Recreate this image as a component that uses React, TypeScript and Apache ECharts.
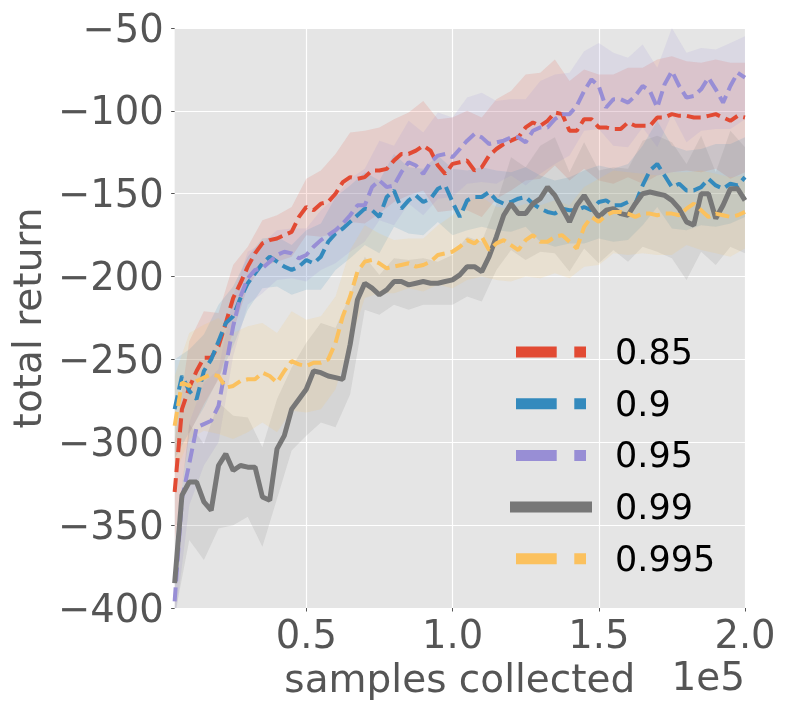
import React, { useEffect, useRef } from 'react';
import * as echarts from 'echarts';

// samples collected (x 1e5)
const X = [
  0.05, 0.075, 0.1, 0.125, 0.15, 0.175, 0.2, 0.225, 0.25, 0.275,
  0.3, 0.325, 0.35, 0.375, 0.4, 0.425, 0.45, 0.475, 0.5, 0.525,
  0.55, 0.575, 0.6, 0.625, 0.65, 0.675, 0.7, 0.725, 0.75, 0.775,
  0.8, 0.825, 0.85, 0.875, 0.9, 0.925, 0.95, 0.975, 1.0, 1.025,
  1.05, 1.075, 1.1, 1.125, 1.15, 1.175, 1.2, 1.225, 1.25, 1.275,
  1.3, 1.325, 1.35, 1.375, 1.4, 1.425, 1.45, 1.475, 1.5, 1.525,
  1.55, 1.575, 1.6, 1.625, 1.65, 1.675, 1.7, 1.725, 1.75, 1.775,
  1.8, 1.825, 1.85, 1.875, 1.9, 1.925, 1.95, 1.975, 2.0,
];

const RED = [
  -330, -280, -267, -257, -249, -249, -242, -228, -213, -204,
  -194, -186, -180, -178, -177, -175, -173, -164, -158, -160,
  -156, -155, -150, -143, -140, -141, -140, -136, -136, -135,
  -130, -126, -126, -124, -121, -124, -133, -138, -132, -131,
  -130, -136, -134, -127, -123, -120, -118, -116, -110, -107,
  -109, -106, -101, -102, -112, -112, -105, -105, -110, -110,
  -111, -111, -107, -109, -109, -109, -104, -104, -102, -103,
  -103, -104, -104, -103, -102, -104, -106, -103, -104,
];

const BLUE = [
  -280, -260, -269, -274, -257, -250, -239, -228, -224, -213,
  -204, -198, -192, -188, -191, -194, -196, -194, -190, -192,
  -188, -179, -174, -171, -167, -163, -159, -160, -164, -152,
  -148, -159, -154, -151, -155, -153, -147, -145, -155, -164,
  -154, -152, -152, -149, -154, -156, -155, -153, -152, -156,
  -159, -161, -162, -159, -160, -160, -158, -160, -155, -154,
  -157, -157, -155, -156, -145, -136, -132, -139, -146, -144,
  -148, -148, -146, -141, -145, -147, -144, -145, -140,
];

const PURPLE = [
  -396, -334, -313, -291, -289, -287, -278, -254, -230, -212,
  -201, -196, -195, -191, -187, -185, -186, -189, -187, -182,
  -178, -175, -172, -168, -163, -157, -157, -146, -142, -146,
  -145, -137, -131, -133, -138, -131, -127, -126, -128, -123,
  -118, -114, -116, -120, -119, -118, -116, -116, -119, -112,
  -110, -110, -105, -102, -102, -97, -88, -81, -85, -98,
  -93, -93, -95, -91, -85, -88, -98, -84, -76, -85,
  -92, -91, -87, -80, -87, -95, -85, -77, -80,
];

const GRAY = [
  -385, -332, -324, -324, -336, -341, -314, -307, -317, -314,
  -315, -315, -333, -335, -304, -296, -280, -274, -268, -257,
  -258, -260, -261, -262, -241, -214, -204, -207, -211, -208,
  -203, -203, -205, -204, -203, -204, -204, -203, -202, -199,
  -194, -194, -197, -188, -176, -163, -156, -162, -162, -156,
  -153, -146, -151, -159, -167, -157, -151, -158, -164, -160,
  -159, -162, -163, -156, -150, -149, -150, -151, -154, -159,
  -167, -169, -150, -150, -165, -157, -147, -147, -154,
];

const YELLOW = [
  -290, -264, -266, -263, -261, -259, -260, -267, -266, -263,
  -262, -262, -258, -260, -264, -257, -251, -253, -254, -252,
  -252, -250, -240, -224, -212, -197, -191, -190, -192, -195,
  -194, -193, -192, -194, -193, -191, -187, -186, -185, -182,
  -178, -180, -176, -184, -180, -178, -181, -184, -178, -175,
  -179, -179, -176, -175, -179, -183, -170, -164, -167, -163,
  -161, -161, -162, -164, -162, -162, -163, -162, -162, -163,
  -159, -156, -160, -164, -162, -163, -164, -163, -161,
];

// spread (std) of each run, at every second sample (x = 0.05, 0.10, ... 2.0)
const RED_STD = [
  30, 28, 28, 20, 20, 12, 14, 14, 15, 17,
  20, 24, 27, 28, 26, 25, 25, 27, 28, 28,
  30, 30, 30, 30, 32, 32, 32, 30, 30, 32,
  33, 33, 35, 35, 35, 33, 33, 33, 35, 33,
];
const BLUE_STD = [
  30, 25, 22, 22, 18, 16, 15, 15, 15, 18,
  20, 22, 22, 22, 22, 22, 20, 20, 20, 20,
  18, 18, 18, 18, 18, 20, 20, 20, 22, 22,
  22, 23, 24, 26, 25, 24, 23, 25, 24, 24,
];
const PURPLE_STD = [
  15, 25, 25, 22, 18, 16, 15, 15, 15, 16,
  18, 20, 22, 22, 24, 24, 25, 25, 26, 24,
  26, 27, 25, 23, 26, 28, 27, 25, 24, 26,
  28, 27, 25, 24, 26, 27, 25, 24, 26, 25,
];
const GRAY_STD = [
  20, 35, 35, 38, 33, 30, 30, 30, 25, 28,
  30, 30, 30, 16, 12, 14, 15, 14, 13, 15,
  18, 18, 20, 28, 28, 32, 35, 30, 32, 28,
  25, 28, 32, 35, 35, 35, 35, 28, 35, 32,
];
const YELLOW_STD = [
  30, 32, 32, 35, 32, 32, 30, 30, 30, 28,
  28, 28, 28, 22, 18, 16, 15, 16, 18, 22,
  24, 24, 22, 22, 22, 22, 22, 22, 24, 26,
  25, 25, 24, 24, 25, 22, 24, 24, 24, 22,
];

const NAMES = ['0.85', '0.9', '0.95', '0.99', '0.995'];
const COLORS = ['#E24A33', '#348ABD', '#988ED5', '#777777', '#FBC15E'];
const BAND_COLORS = [
  'rgba(226,74,51,0.15)',
  'rgba(52,138,189,0.15)',
  'rgba(152,142,213,0.15)',
  'rgba(119,119,119,0.15)',
  'rgba(251,193,94,0.15)',
];
const X_TICKS = [0.5, 1.0, 1.5, 2.0];

const FONT = 'DejaVu Sans';
const DASH_ICON = 'path://M-6,5.5L-6,5.5M0,0h40.7v11h-40.7zM58.3,0h11.7v11h-11.7zM76,5.5L76,5.5';
const SOLID_ICON = 'path://M-6,0h82v11h-82z';

const MEANS = [RED, BLUE, PURPLE, GRAY, YELLOW];
const STDS = [RED_STD, BLUE_STD, PURPLE_STD, GRAY_STD, YELLOW_STD];

function bandSeries(mean: number[], std: number[], fill: string) {
  const idx = X.map((_, i) => i).filter((i) => i % 2 === 0);
  return {
    type: 'custom',
    silent: true,
    z: 1,
    data: [[X[0], mean[0]]],
    renderItem: (params: any, api: any) => {
      const up = idx.map((i, k) => api.coord([X[i], mean[i] + std[k]]));
      const lo = idx.map((i, k) => api.coord([X[i], mean[i] - std[k]])).reverse();
      const cs = params.coordSys;
      return {
        type: 'polygon',
        shape: { points: up.concat(lo) },
        style: { fill },
        clipPath: { type: 'rect', shape: { x: cs.x, y: cs.y, width: cs.width, height: cs.height } },
      };
    },
  };
}

export default function App() {
  const ref = useRef<HTMLDivElement>(null);
  useEffect(() => {
    const chart = echarts.init(ref.current as HTMLDivElement, null, { renderer: 'svg' });
    const bands = MEANS.map((m, s) => bandSeries(m, STDS[s], BAND_COLORS[s]));
    const lines = MEANS.map((m, s) => ({
      type: 'line',
      name: NAMES[s],
      data: X.map((x, i) => [x, m[i]]),
      symbol: 'none',
      z: 3 + s,
      lineStyle: {
        color: COLORS[s],
        width: s === 3 ? 5 : 4,
        type: s === 3 ? 'solid' : [14, 6],
        cap: 'butt',
      },
      itemStyle: { color: COLORS[s] },
    }));
    chart.setOption({
      animation: false,
      textStyle: { fontFamily: FONT },
      grid: {
        left: 171,
        right: 44,
        top: 28,
        bottom: 102,
        show: true,
        backgroundColor: '#E5E5E5',
        borderWidth: 0,
      },
      xAxis: {
        type: 'value',
        min: 0.05,
        max: 2.0,
        axisLine: { show: false },
        axisTick: { show: true, length: 3.5, lineStyle: { color: '#555555' }, customValues: X_TICKS },
        axisLabel: {
          customValues: X_TICKS,
          formatter: (v: number) => v.toFixed(1),
          fontSize: 38.5,
          color: '#555555',
          fontFamily: FONT,
          margin: 7,
        },
        splitLine: { show: true, lineStyle: { color: '#ffffff', width: 1.2 } },
        name: 'samples collected',
        nameLocation: 'middle',
        nameGap: 50,
        nameTextStyle: { fontSize: 39, color: '#555555', fontFamily: FONT },
      },
      yAxis: {
        type: 'value',
        min: -400,
        max: -50,
        interval: 50,
        axisLine: { show: false },
        axisTick: { show: true, length: 3.5, lineStyle: { color: '#555555' } },
        axisLabel: {
          formatter: (v: number) => (v < 0 ? '\u2212' + String(-v) : String(v)),
          fontSize: 38.5,
          color: '#555555',
          fontFamily: FONT,
          margin: 11,
        },
        splitLine: { show: true, lineStyle: { color: '#ffffff', width: 1.2 } },
        name: 'total return',
        nameLocation: 'middle',
        nameGap: 125,
        nameTextStyle: { fontSize: 39, color: '#555555', fontFamily: FONT },
      },
      legend: {
        orient: 'vertical',
        left: 510,
        top: 332,
        padding: 0,
        itemWidth: 82,
        itemHeight: 11,
        itemGap: 11.7,
        selectedMode: false,
        data: NAMES.map((n, i) => ({ name: n, icon: i === 3 ? SOLID_ICON : DASH_ICON })),
        itemStyle: { borderWidth: 0 },
        textStyle: { fontSize: 35, color: '#000000', fontFamily: FONT, lineHeight: 40, padding: [0, 0, 0, 18] },
      },
      graphic: [
        {
          type: 'text',
          right: 44,
          top: 657,
          style: { text: '1e5', fontSize: 39, fill: '#555555', fontFamily: FONT },
        },
      ],
      series: [...bands, ...lines],
    });
    return () => chart.dispose();
  }, []);
  return <div ref={ref} style={{ position: 'fixed', left: 0, top: 0, width: 789, height: 710 }} />;
}
